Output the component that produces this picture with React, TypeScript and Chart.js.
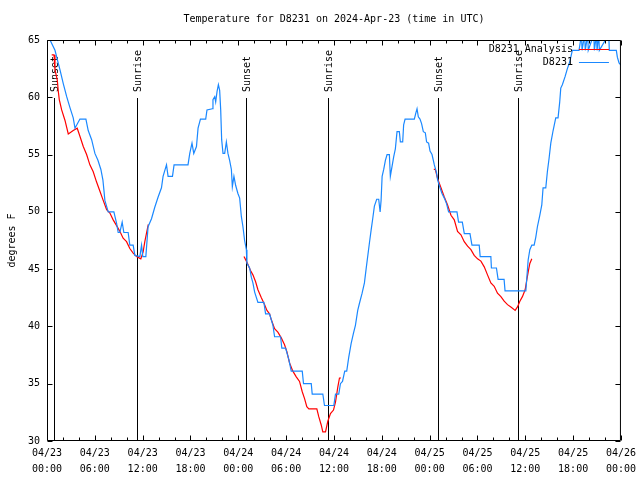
import React, { useEffect, useRef } from 'react';
import { Chart, registerables } from 'chart.js';

Chart.register(...registerables);

const FONT = "'DejaVu Sans Mono', 'Liberation Mono', monospace";
const TITLE = 'Temperature for D8231 on 2024-Apr-23 (time in UTC)';
const Y_TITLE = 'degrees F';
const SERIES_NAMES = ['D8231 Analysis', 'D8231'];
const DATE_LABELS = ['04/23', '04/23', '04/23', '04/23', '04/24', '04/24', '04/24', '04/24', '04/25', '04/25', '04/25', '04/25', '04/26'];
const TIME_LABELS = ['00:00', '06:00', '12:00', '18:00', '00:00', '06:00', '12:00', '18:00', '00:00', '06:00', '12:00', '18:00', '00:00'];
const SUN_HOURS = [0.88, 11.23, 24.92, 35.23, 49.0, 59.14];
const SUN_LABELS = ['Sunset', 'Sunrise', 'Sunset', 'Sunrise', 'Sunset', 'Sunrise'];

// Observed D8231 (hours since 04/23 00:00 UTC, degrees F)
const obsHours = [
  0, 0.38, 1.0, 1.63, 2.04, 2.47, 2.88, 3.29, 3.51, 4.13,
  4.88, 5.17, 5.6, 6.01, 6.39, 6.76, 7.01, 7.14, 7.26, 7.68,
  8.39, 8.73, 8.93, 9.14, 9.43, 9.64, 10.18, 10.39, 10.81, 11.02,
  11.65, 11.86, 12.02, 12.4, 12.68, 13.11, 13.52, 13.94, 14.36, 14.56,
  14.99, 15.19, 15.74, 15.94, 17.69, 17.91, 18.19, 18.41, 18.75, 18.95,
  19.25, 19.91, 20.07, 20.75, 20.82, 21.04, 21.16, 21.33, 21.5, 21.66,
  21.79, 21.91, 22.08, 22.29, 22.5, 22.7, 22.91, 23.13, 23.25, 23.45,
  23.67, 23.95, 24.17, 24.38, 24.58, 24.79, 25.01, 25.08, 25.42, 25.63,
  25.83, 26.05, 26.46, 27.21, 27.42, 27.92, 28.34, 28.55, 29.3, 29.46,
  29.93, 30.34, 30.64, 32.02, 32.18, 33.15, 33.27, 34.6, 34.81, 35.98,
  36.19, 36.6, 36.81, 37.07, 37.35, 37.6, 37.85, 38.15, 38.44, 38.69,
  38.98, 39.19, 39.53, 39.82, 40.03, 40.45, 40.66, 40.86, 41.07, 41.36,
  41.61, 41.79, 41.91, 42.04, 42.24, 42.45, 42.66, 42.95, 43.07, 43.29,
  43.49, 43.7, 43.91, 44.2, 44.33, 44.62, 44.74, 44.92, 46.08, 46.3,
  46.42, 46.58, 46.79, 46.99, 47.21, 47.46, 47.62, 47.87, 48.05, 48.3,
  48.59, 48.87, 49.0, 49.3, 49.55, 49.84, 50.13, 50.38, 51.43, 51.63,
  52.1, 52.35, 53.06, 53.31, 54.22, 54.34, 55.68, 55.75, 56.38, 56.59,
  57.34, 57.46, 60.07, 60.36, 60.57, 60.82, 61.11, 61.32, 61.52, 61.82,
  62.07, 62.23, 62.57, 62.77, 62.99, 63.2, 63.49, 63.82, 64.11, 64.32,
  64.45, 64.65, 64.99, 65.28, 65.58, 65.9,
  66.74, 67.05, 67.12, 67.45, 67.52, 67.84, 67.9, 68.6, 68.66, 68.93,
  69.0, 69.22, 69.29, 70.47, 70.54, 71.42, 71.55, 71.76, 72,
];
const obsTemps = [
  65.5, 65, 64.1, 62.4, 61.2, 60.05, 59.1, 58.2, 57.3, 58.1,
  58.1, 57.1, 56.3, 55.1, 54.5, 53.7, 52.8, 51.9, 51.0, 50.0,
  50.0, 49.0, 48.2, 48.2, 49.1, 48.2, 48.2, 47.1, 47.1, 46.2,
  46.1, 47.1, 46.1, 46.1, 48.7, 49.4, 50.4, 51.3, 52.1, 53.1,
  54.1, 53.1, 53.1, 54.1, 54.1, 55.1, 56.0, 55.1, 55.7, 57.3,
  58.1, 58.1, 58.9, 59.0, 59.8, 60.05, 59.6, 60.5, 61.1, 60.6,
  58.9, 56.3, 55.1, 55.1, 56.1, 55.1, 54.5, 53.7, 52.2, 53.1,
  52.3, 51.6, 51.2, 49.6, 48.7, 47.5, 46.7, 45.5, 45.1, 44.3,
  43.8, 43.0, 42.1, 42.1, 41.1, 41.1, 40.1, 39.1, 39.1, 38.1,
  38.1, 37.1, 36.1, 36.1, 35.0, 35.0, 34.1, 34.1, 33.1, 33.1,
  34.1, 34.1, 35.0, 35.2, 36.1, 36.1, 37.3, 38.5, 39.4, 40.1,
  41.4, 42.0, 42.9, 43.8, 45.0, 47.3, 48.4, 49.4, 50.5, 51.1,
  51.1, 50.0, 51.0, 53.1, 53.7, 54.5, 55.0, 55.0, 53.1, 54.0,
  54.8, 55.5, 57.0, 57.0, 56.1, 56.1, 57.6, 58.1, 58.1, 58.7,
  59.0, 58.3, 58.1, 57.7, 57.0, 56.9, 56.1, 56.0, 55.3, 55.0,
  54.1, 53.4, 52.8, 52.1, 51.6, 51.2, 50.7, 50.0, 50.0, 49.1,
  49.1, 48.1, 48.1, 47.1, 47.1, 46.1, 46.1, 45.1, 45.1, 44.1,
  44.1, 43.1, 43.1, 45.8, 46.7, 47.1, 47.1, 47.8, 48.7, 49.7,
  50.6, 52.1, 52.1, 53.5, 54.7, 56.0, 57.1, 58.2, 58.2, 59.6,
  60.8, 61.1, 61.8, 62.5, 63.1, 64.1,
  64.1, 65.5, 64.1, 65.5, 64.1, 65.5, 64.1, 65.5, 64.1, 65.5,
  64.1, 65.5, 64.1, 65.5, 64.1, 64.1, 63.5, 63.0, 62.8,
];

// D8231 Analysis, night segments
const night1Hours = [0.59, 0.88, 1.0, 1.29, 1.42, 1.54, 1.84, 2.25, 2.67, 3.29, 3.79, 4.13, 4.55, 4.97, 5.38, 5.8, 6.22, 6.64, 7.05, 7.48, 7.89, 8.3, 8.73, 9.14, 9.55, 9.98, 10.39, 10.81, 11.23, 11.77, 12.06, 12.27, 12.56, 12.71];
const night1Temps = [63.7, 63.7, 62.4, 61.5, 60.5, 59.8, 58.9, 58.0, 56.8, 57.1, 57.3, 56.6, 55.7, 55.0, 54.1, 53.5, 52.6, 51.8, 51.0, 50.2, 49.9, 49.3, 48.8, 48.3, 47.7, 47.4, 46.8, 46.4, 46.1, 45.9, 46.5, 47.4, 48.4, 48.9];
const night2Hours = [24.71, 25.01, 25.21, 25.51, 25.83, 26.17, 26.46, 26.89, 27.3, 27.59, 27.92, 28.13, 28.55, 28.96, 29.39, 29.8, 30.09, 30.43, 30.84, 31.27, 31.68, 32.02, 32.31, 32.59, 32.85, 33.85, 34.1, 34.4, 34.6, 34.94, 35.22, 35.56, 35.94, 36.19, 36.48, 36.69, 36.88];
const night2Temps = [46.1, 45.7, 45.4, 44.9, 44.5, 43.9, 43.2, 42.5, 41.9, 41.4, 41.1, 40.6, 39.8, 39.5, 39.0, 38.4, 37.8, 36.8, 36.1, 35.6, 35.2, 34.3, 33.7, 33.0, 32.8, 32.8, 32.1, 31.4, 30.8, 30.8, 31.7, 32.4, 32.7, 33.4, 34.7, 35.5, 35.5];
const night3Hours = [48.52, 48.71, 49.0, 49.42, 49.84, 50.25, 50.68, 51.09, 51.5, 51.93, 52.34, 52.76, 53.18, 53.59, 54.01, 54.43, 54.85, 55.26, 55.68, 56.1, 56.51, 56.94, 57.35, 57.77, 58.19, 58.73, 59.02, 59.32, 59.64, 59.98, 60.15, 60.4, 60.57, 60.82];
const night3Temps = [53.7, 53.7, 52.9, 52.1, 51.3, 50.6, 49.7, 49.3, 48.3, 48.0, 47.4, 47.0, 46.7, 46.2, 45.9, 45.7, 45.2, 44.5, 43.8, 43.5, 42.9, 42.6, 42.2, 41.9, 41.7, 41.4, 41.7, 42.2, 42.6, 43.2, 43.9, 44.9, 45.5, 45.9];

const BLUE = '#1a88ff';
const RED = '#ff0000';

function toPoints(hours: number[], temps: number[]) {
  return hours.map((h, i) => ({ x: h, y: temps[i] }));
}

function buildAnalysis() {
  const segs = [
    toPoints(night1Hours, night1Temps),
    toPoints(night2Hours, night2Temps),
    toPoints(night3Hours, night3Temps),
  ];
  const out: { x: number; y: number | null }[] = [];
  segs.forEach((s, i) => {
    if (i > 0) out.push({ x: (out[out.length - 1].x + s[0].x) / 2, y: null });
    out.push(...s);
  });
  return out;
}

const overlayPlugin = {
  id: 'gnuOverlay',
  beforeDatasetsDraw(chart: any) {
    const { ctx, chartArea: a, scales } = chart;
    const x = scales.x;
    ctx.save();
    ctx.strokeStyle = '#000';
    ctx.lineWidth = 1;
    ctx.fillStyle = '#000';
    ctx.font = `10px ${FONT}`;
    SUN_HOURS.forEach((h, i) => {
      const px = Math.round(x.getPixelForValue(h)) + 0.5;
      ctx.beginPath();
      ctx.moveTo(px, a.top + 58);
      ctx.lineTo(px, a.bottom);
      ctx.stroke();
      ctx.save();
      ctx.translate(px + 0.5, a.top + 52);
      ctx.rotate(-Math.PI / 2);
      ctx.textAlign = 'left';
      ctx.textBaseline = 'middle';
      ctx.fillText(SUN_LABELS[i], 0, 0);
      ctx.restore();
    });
    ctx.restore();
  },
  afterDatasetsDraw(chart: any) {
    const { ctx, chartArea: a, scales } = chart;
    const x = scales.x;
    const y = scales.y;
    ctx.save();
    ctx.strokeStyle = '#000';
    ctx.lineWidth = 1;
    // frame
    const L = a.left + 0.5, R = a.right - 0.5, T = a.top + 0.5, B = a.bottom - 0.5;
    ctx.beginPath();
    ctx.rect(L, T, R - L, B - T);
    ctx.stroke();
    // x ticks (major every 6h, minor every 2h), mirrored
    ctx.beginPath();
    for (let h = x.min; h <= x.max; h += 2) {
      const px = Math.round(x.getPixelForValue(h)) + 0.5;
      const len = h % 6 === 0 ? 5 : 3;
      ctx.moveTo(px, B);
      ctx.lineTo(px, B - len);
      ctx.moveTo(px, T);
      ctx.lineTo(px, T + len);
    }
    // y ticks, mirrored
    for (let v = y.min; v <= y.max; v += 5) {
      const py = Math.round(y.getPixelForValue(v)) + 0.5;
      ctx.moveTo(L, py);
      ctx.lineTo(L + 5, py);
      ctx.moveTo(R, py);
      ctx.lineTo(R - 5, py);
    }
    ctx.stroke();

    // title
    ctx.fillStyle = '#000';
    ctx.font = `10px ${FONT}`;
    ctx.textAlign = 'center';
    ctx.textBaseline = 'middle';
    ctx.fillText(TITLE, (a.left + a.right) / 2, a.top - 21);

    // legend
    const colors = [RED, BLUE];
    SERIES_NAMES.forEach((name, i) => {
      const ly = Math.round(a.top + 9 + i * 13) + 0.5;
      ctx.textAlign = 'right';
      ctx.fillStyle = '#000';
      ctx.fillText(name, a.right - 48, ly);
      ctx.strokeStyle = colors[i];
      ctx.beginPath();
      ctx.moveTo(a.right - 42, ly);
      ctx.lineTo(a.right - 12, ly);
      ctx.stroke();
    });
    ctx.restore();
  },
};

export default function App() {
  const canvasRef = useRef<HTMLCanvasElement | null>(null);

  useEffect(() => {
    const canvas = canvasRef.current;
    if (!canvas) return;
    const chart = new Chart(canvas, {
      type: 'line',
      data: {
        datasets: [
          {
            label: SERIES_NAMES[1],
            data: toPoints(obsHours, obsTemps),
            borderColor: BLUE,
            borderWidth: 1.2,
            pointRadius: 0,
            tension: 0,
            fill: false,
          },
          {
            label: SERIES_NAMES[0],
            data: buildAnalysis() as any,
            borderColor: RED,
            borderWidth: 1.2,
            pointRadius: 0,
            tension: 0,
            fill: false,
            spanGaps: false,
          },
        ],
      },
      options: {
        animation: false,
        responsive: false,
        devicePixelRatio: 1,
        layout: { padding: { top: 40, right: 18, left: 0, bottom: 0 } },
        plugins: {
          legend: { display: false },
          title: { display: false },
          tooltip: { enabled: false },
        },
        scales: {
          x: {
            type: 'linear',
            min: 0,
            max: 72,
            grid: { display: false, drawTicks: false },
            border: { display: false },
            ticks: {
              stepSize: 6,
              autoSkip: false,
              maxRotation: 0,
              minRotation: 0,
              padding: 4,
              color: '#000',
              font: { family: FONT, size: 10, lineHeight: 1.6 },
              callback: (value: any) => {
                const i = Math.round(Number(value) / 6);
                return [DATE_LABELS[i], TIME_LABELS[i]];
              },
            },
            afterFit: (s: any) => {
              s.height = 39;
            },
          },
          y: {
            min: 30,
            max: 65,
            grid: { display: false, drawTicks: false },
            border: { display: false },
            ticks: {
              stepSize: 5,
              padding: 7,
              color: '#000',
              font: { family: FONT, size: 10 },
            },
            title: {
              display: true,
              text: Y_TITLE,
              color: '#000',
              font: { family: FONT, size: 10 },
              padding: { top: 6, bottom: 0 },
            },
            afterFit: (s: any) => {
              s.width = 47;
            },
          },
        },
      },
      plugins: [overlayPlugin],
    });
    return () => chart.destroy();
  }, []);

  return (
    <div style={{ position: 'absolute', left: 0, top: 0, width: 640, height: 480, background: '#fff' }}>
      <canvas ref={canvasRef} width={640} height={480} style={{ width: 640, height: 480 }} />
    </div>
  );
}
